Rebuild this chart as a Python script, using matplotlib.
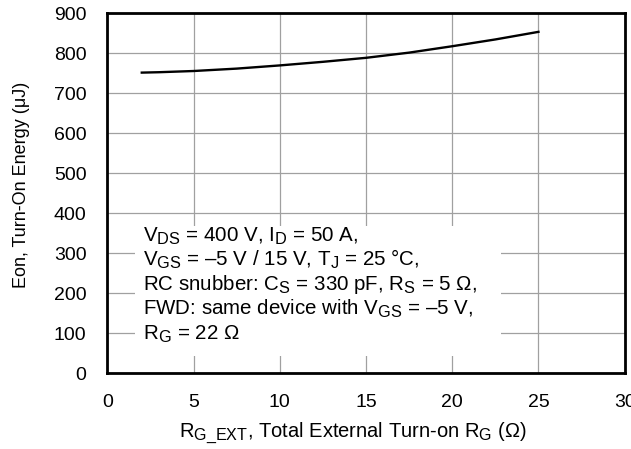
import matplotlib
matplotlib.use("Agg")
import matplotlib.pyplot as plt
from matplotlib.patches import Rectangle
import matplotlib._mathtext as _mt

_mt.SHRINK_FACTOR = 0.8

plt.rcParams['font.family'] = ['Liberation Sans', 'DejaVu Sans']
plt.rcParams['mathtext.fontset'] = 'custom'
plt.rcParams['mathtext.rm'] = 'Liberation Sans'
plt.rcParams['mathtext.it'] = 'Liberation Sans:italic'
plt.rcParams['mathtext.bf'] = 'Liberation Sans:bold'

# Data
rg = [2, 3, 5, 7.5, 10, 12.5, 15, 17.5, 20, 22.5, 25]
eon = [752, 753, 756, 762, 770, 779, 789, 802, 818, 835, 854]

xticks = [0, 5, 10, 15, 20, 25, 30]
yticks = [0, 100, 200, 300, 400, 500, 600, 700, 800, 900]

notes = [
    r'V$_{\mathrm{DS}}$ = 400 V, I$_{\mathrm{D}}$ = 50 A,',
    r'V$_{\mathrm{GS}}$ = –5 V / 15 V, T$_{\mathrm{J}}$ = 25 °C,',
    r'RC snubber: C$_{\mathrm{S}}$ = 330 pF, R$_{\mathrm{S}}$ = 5 Ω,',
    r'FWD: same device with V$_{\mathrm{GS}}$ = –5 V,',
    r'R$_{\mathrm{G}}$ = 22 Ω',
]

FS = 14

fig = plt.figure(figsize=(6.31, 4.49), dpi=100)
ax = fig.add_axes([0.170, 0.169, 0.820, 0.801])

ax.plot(rg, eon, color='black', lw=1.7, zorder=3)

ax.set_xlim(0, 30)
ax.set_ylim(0, 900)
ax.set_xticks(xticks)
ax.set_yticks(yticks)
ax.grid(True, color='#a0a0a0', lw=0.9, zorder=0)
ax.set_axisbelow(True)
ax.tick_params(axis='both', length=0, labelsize=FS)
ax.tick_params(axis='y', pad=15)
ax.tick_params(axis='x', pad=15)
for s in ax.spines.values():
    s.set_linewidth(2.0)
    s.set_zorder(5)

ax.set_xlabel(r'R$_{\mathrm{G\_EXT}}$, Total External Turn-on R$_{\mathrm{G}}$ (Ω)', fontsize=14.5, labelpad=7)
ax.xaxis.label.set_x(0.475)
ax.set_ylabel('Eon, Turn-On Energy (μJ)', fontsize=13, labelpad=17)
ax.yaxis.label.set_y(0.523)

# white box behind notes
ax.add_patch(Rectangle((1.6, 43), 21.2, 325, facecolor='white', edgecolor='none', zorder=1))
ys = [328, 268, 207, 146, 84]
for y, t in zip(ys, notes):
    ax.text(2.07, y, t, fontsize=14.8, va='baseline', ha='left', zorder=4)

fig.savefig('out.png', dpi=100)
